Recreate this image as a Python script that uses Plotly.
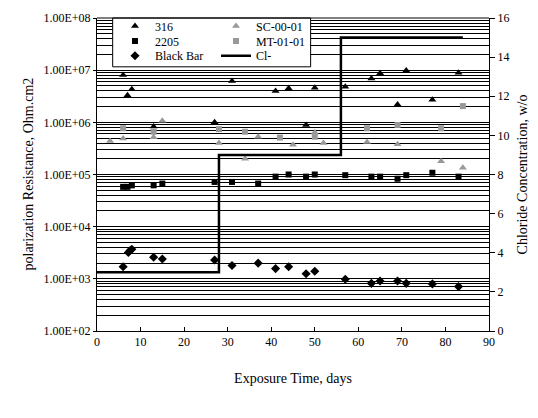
import plotly.graph_objects as go

# ---- data ----
days_316 = [6, 7, 8, 13, 27, 31, 41, 44, 48, 50, 57, 63, 65, 69, 71, 77, 83]
rp_316 = [8.1e6, 3.3e6, 4.3e6, 8.3e5, 1.0e6, 6.2e6, 4.0e6, 4.5e6, 8.9e5, 4.6e6,
          4.8e6, 6.9e6, 8.7e6, 2.2e6, 9.8e6, 2.7e6, 8.9e6]

days_2205 = [6, 7, 8, 13, 15, 27, 31, 37, 41, 44, 48, 50, 57, 63, 65, 69, 71, 77, 83]
rp_2205 = [5.8e4, 5.8e4, 6.2e4, 6.2e4, 6.7e4, 7.2e4, 7.2e4, 6.7e4, 9.1e4, 1.0e5,
           9.1e4, 1.0e5, 9.7e4, 9.1e4, 9.1e4, 8.3e4, 9.7e4, 1.08e5, 9.1e4]

days_bb = [6, 7.2, 7.6, 8, 13, 15, 27, 31, 37, 41, 44, 48, 50, 57, 63, 65, 69, 71, 77, 83]
rp_bb = [1.7e3, 3.2e3, 3.5e3, 3.7e3, 2.6e3, 2.4e3, 2.3e3, 1.8e3, 2.0e3, 1.57e3,
         1.7e3, 1.25e3, 1.4e3, 9.8e2, 8.2e2, 9.1e2, 9.1e2, 8.2e2, 8.0e2, 7.1e2]

days_sc = [3, 6, 13, 15, 28, 34, 37, 45, 50, 52, 62, 69, 79, 84]
rp_sc = [4.4e5, 4.9e5, 5.2e5, 1.07e6, 4.0e5, 2.0e5, 5.3e5, 3.7e5, 6.4e5, 4.0e5,
         4.2e5, 3.8e5, 1.8e5, 1.35e5]

days_mt = [6, 13, 28, 34, 42, 50, 62, 69, 79, 84]
rp_mt = [7.7e5, 6.6e5, 7.4e5, 6.6e5, 5.1e5, 5.3e5, 7.7e5, 8.9e5, 7.7e5, 2.05e6]

days_cl = [0, 28, 28, 56, 56, 84]
cl_conc = [3, 3, 9, 9, 15, 15]

y_tick_vals = [1e2, 1e3, 1e4, 1e5, 1e6, 1e7, 1e8]
y_tick_text = ["1.00E+02", "1.00E+03", "1.00E+04", "1.00E+05", "1.00E+06",
               "1.00E+07", "1.00E+08"]

y_title = "polarization Resistance, Ohm.cm2"

FONT = "Liberation Serif, Times New Roman, serif"
GRAY = "#999999"
W, H = 538, 418

fig = go.Figure()
fig.add_trace(go.Scatter(x=days_316, y=rp_316, mode="markers", name="316",
                         marker=dict(symbol="triangle-up", size=7, color="black"),
                         legend="legend"))
fig.add_trace(go.Scatter(x=days_2205, y=rp_2205, mode="markers", name="2205",
                         marker=dict(symbol="square", size=6, color="black"),
                         legend="legend2"))
fig.add_trace(go.Scatter(x=days_bb, y=rp_bb, mode="markers", name="Black Bar",
                         marker=dict(symbol="diamond", size=7, color="black"),
                         legend="legend3"))
fig.add_trace(go.Scatter(x=days_sc, y=rp_sc, mode="markers", name="SC-00-01",
                         marker=dict(symbol="triangle-up", size=7, color=GRAY),
                         legend="legend4"))
fig.add_trace(go.Scatter(x=days_mt, y=rp_mt, mode="markers", name="MT-01-01",
                         marker=dict(symbol="square", size=6, color=GRAY),
                         legend="legend5"))
fig.add_trace(go.Scatter(x=days_cl, y=cl_conc, mode="lines", name="Cl-",
                         line=dict(color="black", width=2.5), yaxis="y2",
                         legend="legend6"))


def leg(left_px, row_center_px):
    top = row_center_px - 14.3
    return dict(x=left_px / W, y=1 - top / H, xref="container",
                yref="container", xanchor="left", yanchor="top",
                bgcolor="rgba(0,0,0,0)", borderwidth=0, font=dict(size=12))


rows = [25.7, 40.7, 55.5]
c1, c2 = 115, 216

fig.update_layout(
    width=W, height=H,
    margin=dict(l=97, r=49, t=18, b=87, autoexpand=False),
    paper_bgcolor="white", plot_bgcolor="white",
    font=dict(family=FONT, size=12, color="black"),
    showlegend=True,
    xaxis=dict(range=[0, 90], dtick=10, ticks="inside", ticklen=4,
               tickcolor="black", showline=True, linecolor="black",
               linewidth=1, showgrid=False, zeroline=False, automargin=False,
               tickfont=dict(size=12),
               title=dict(text="Exposure Time, days", font=dict(size=14),
                          standoff=24)),
    yaxis=dict(type="log", range=[2, 8], tickvals=y_tick_vals,
               ticktext=y_tick_text, showline=True, linecolor="black",
               ticks="outside", ticklen=3, tickcolor="black",
               showgrid=True, gridcolor="black", gridwidth=1,
               minor=dict(dtick="D1", showgrid=True, gridcolor="black",
                          gridwidth=1, ticks=""),
               zeroline=False, automargin=False, tickfont=dict(size=12)),
    yaxis2=dict(overlaying="y", side="right", range=[0, 16], dtick=2,
                showline=True, linecolor="black", ticks="outside", ticklen=5,
                tickcolor="black", showgrid=False, zeroline=False,
                automargin=False, tickfont=dict(size=12),
                title=dict(text="Chloride Concentration, w/o",
                           font=dict(size=14), standoff=8)),
    legend=leg(c1, rows[0]),
    legend2=leg(c1, rows[1]),
    legend3=leg(c1, rows[2]),
    legend4=leg(c2, rows[0]),
    legend5=leg(c2, rows[1]),
    legend6=leg(c2, rows[2]),
    annotations=[
        dict(text=y_title, xref="paper", yref="paper", x=(28 - 97) / 392,
             y=0.5, xanchor="center", yanchor="middle", textangle=-90,
             showarrow=False, font=dict(size=14)),
    ],
    shapes=[
        dict(type="rect", xref="paper", yref="paper", x0=0.04, x1=0.545,
             y0=0.844, y1=1.0, line=dict(color="black", width=1),
             fillcolor="white", layer="above"),
        dict(type="line", xref="paper", yref="paper", x0=0, x1=1, y0=1, y1=1,
             line=dict(color="black", width=1)),
    ],
)

fig.write_html("out.html", config={"displayModeBar": False},
               post_script="document.body.style.margin='0';")
